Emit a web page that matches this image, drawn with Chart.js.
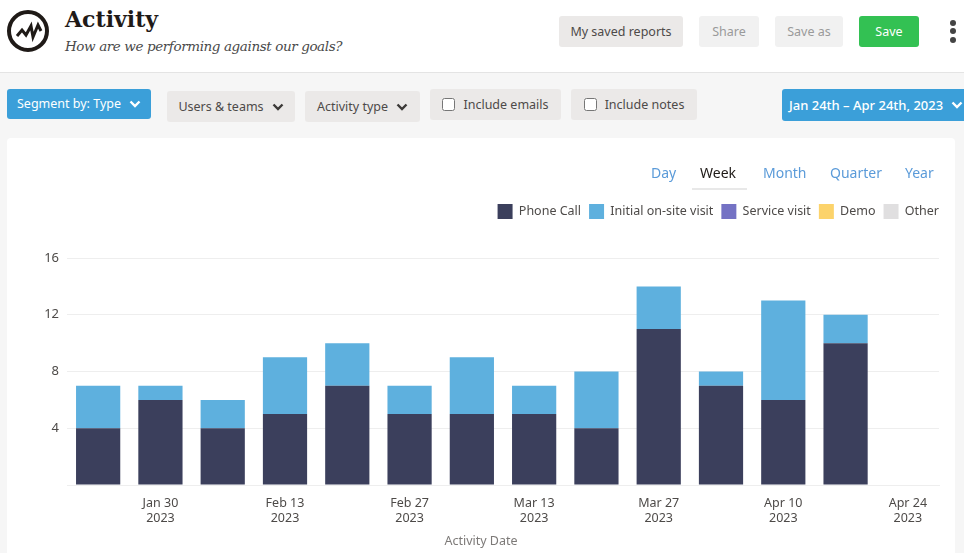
<!DOCTYPE html>
<html>
<head>
<meta charset="utf-8">
<title>Activity</title>
<script src="https://cdn.jsdelivr.net/npm/chart.js@4"></script>
<style>
  html, body { margin: 0; padding: 0; width: 964px; height: 553px; overflow: hidden; background: #f6f6f6; font-family: "Noto Sans", sans-serif; font-size: 12.5px; color: #4d4a48; }
  .abs { position: absolute; box-sizing: border-box; white-space: nowrap; }
  #header { left: 0; top: 0; width: 964px; height: 73px; background: #fff; border-bottom: 1px solid #e4e4e4; }
  #title { left: 65px; top: 6px; font: bold 22px "DejaVu Serif", serif; color: #1f1a17; }
  #subtitle { left: 65px; top: 38px; font: italic 13.5px "DejaVu Serif", serif; color: #4a4a4a; letter-spacing: -0.4px; }
  .btn { border-radius: 3px; background: #ebe9e8; display: flex; align-items: center; justify-content: center; padding-bottom: 1px; }
  .btn.off { background: #f1f1f1; color: #9a9a9a; }
  .btn.blue { background: #3b9fd9; color: #fff; }
  .btn.green { background: #33c153; color: #fff; }
  .btn svg { margin-left: 8px; margin-top: 1px; }
  .btn input { margin: 1px 8px 0 0; width: 13px; height: 13px; }
  .dot { width: 6px; height: 6px; border-radius: 50%; background: #444; left: 950px; }
  #card { left: 7px; top: 138px; width: 948px; height: 415px; background: #fff; border-radius: 4px 4px 0 0; }
  #card canvas { position: absolute; left: 0; top: 0; }
  .tab { top: 163px; font-size: 14px; color: #5b9bd9; }
  #tabline { left: 692px; top: 188px; width: 55px; height: 2px; background: #e8e8e8; }
</style>
</head>
<body>
<div class="abs" id="header"></div>
<svg class="abs" style="left:6px;top:9px" width="44" height="44" viewBox="0 0 44 44">
  <circle cx="22" cy="22" r="19" fill="none" stroke="#1f1a17" stroke-width="4"/>
  <polyline points="11,27 16,21 20,26 25,17 27,28 32,16 35,22" fill="none" stroke="#1f1a17" stroke-width="3"/>
</svg>
<div class="abs" id="title">Activity</div>
<div class="abs" id="subtitle">How are we performing against our goals?</div>

<div class="abs btn" style="left:559px;top:16px;width:124px;height:31px">My saved reports</div>
<div class="abs btn off" style="left:699px;top:16px;width:60px;height:31px">Share</div>
<div class="abs btn off" style="left:775px;top:16px;width:68px;height:31px">Save as</div>
<div class="abs btn green" style="left:859px;top:16px;width:60px;height:31px">Save</div>
<div class="abs dot" style="top:20px"></div>
<div class="abs dot" style="top:28px"></div>
<div class="abs dot" style="top:37px"></div>

<div class="abs btn blue" style="left:7px;top:89px;width:144px;height:30px">Segment by: Type<svg width="12" height="8" viewBox="0 0 12 8"><polyline points="1.5,1.5 6,6 10.5,1.5" fill="none" stroke="#fff" stroke-width="2.4"/></svg></div>
<div class="abs btn" style="left:167px;top:91px;width:128px;height:31px">Users &amp; teams<svg width="12" height="8" viewBox="0 0 12 8"><polyline points="1.5,1.5 6,6 10.5,1.5" fill="none" stroke="#3c3a38" stroke-width="2.4"/></svg></div>
<div class="abs btn" style="left:305px;top:91px;width:115px;height:31px">Activity type<svg width="12" height="8" viewBox="0 0 12 8"><polyline points="1.5,1.5 6,6 10.5,1.5" fill="none" stroke="#3c3a38" stroke-width="2.4"/></svg></div>
<div class="abs btn" style="left:430px;top:89px;width:131px;height:31px"><input type="checkbox">Include emails</div>
<div class="abs btn" style="left:571px;top:89px;width:126px;height:31px"><input type="checkbox">Include notes</div>
<div class="abs btn blue" style="left:782px;top:89px;width:190px;height:32px;justify-content:flex-start;padding-left:7px;font-size:13px;font-weight:500">Jan 24th – Apr 24th, 2023<svg width="12" height="8" viewBox="0 0 12 8"><polyline points="1.5,1.5 6,6 10.5,1.5" fill="none" stroke="#fff" stroke-width="2.4"/></svg></div>

<div class="abs" id="card"><canvas id="chart-activity" width="948" height="415"></canvas></div>
<div class="abs tab" style="left:651px">Day</div>
<div class="abs tab" style="left:700px;color:#1f1a17">Week</div>
<div class="abs tab" style="left:763px">Month</div>
<div class="abs tab" style="left:830px">Quarter</div>
<div class="abs tab" style="left:905px">Year</div>
<div class="abs" id="tabline"></div>

<script>
// Weekly buckets, labels only shown every second week
const weeks = ["Jan 23", "Jan 30", "Feb 6", "Feb 13", "Feb 20", "Feb 27", "Mar 6", "Mar 13", "Mar 20", "Mar 27", "Apr 3", "Apr 10", "Apr 17", "Apr 24"];
const year = "2023";

const phoneCall = [4, 6, 4, 5, 7, 5, 5, 5, 4, 11, 7, 6, 10, 0];
const initialVisit = [3, 1, 2, 4, 3, 2, 4, 2, 4, 3, 1, 7, 2, 0];
const serviceVisit = [0, 0, 0, 0, 0, 0, 0, 0, 0, 0, 0, 0, 0, 0];
const demo = [0, 0, 0, 0, 0, 0, 0, 0, 0, 0, 0, 0, 0, 0];
const other = [0, 0, 0, 0, 0, 0, 0, 0, 0, 0, 0, 0, 0, 0];

const font = "'Noto Sans', sans-serif";
const legendPadding = 8;

function series(label, data, color) {
  return { label, data, backgroundColor: color, borderWidth: 0, barPercentage: 0.71, categoryPercentage: 1 };
}

// Legend sits flush with the plot's right edge and leaves a gap above the plot;
// the axis caption is centred on the card rather than on the plot
const legendSpacing = {
  id: "legendSpacing",
  beforeInit(chart) {
    const fit = chart.legend.fit;
    chart.legend.fit = function () {
      fit.call(this);
      this.height += 29;
    };
  },
  afterLayout(chart) {
    chart.legend.left += legendPadding;
    chart.legend.right += legendPadding;
    chart.titleBlock.left += 8;
    chart.titleBlock.right += 8;
  }
};

new Chart(document.getElementById("chart-activity"), {
  type: "bar",
  data: {
    labels: weeks,
    datasets: [
      series("Phone Call", phoneCall, "#3b3f5c"),
      series("Initial on-site visit", initialVisit, "#5eb0de"),
      series("Service visit", serviceVisit, "#7472c4"),
      series("Demo", demo, "#fcd36b"),
      series("Other", other, "#e0dfe0"),
    ]
  },
  plugins: [legendSpacing],
  options: {
    responsive: false,
    animation: false,
    layout: { padding: { left: 0, right: 16, top: 58, bottom: 4 } },
    scales: {
      x: {
        stacked: true,
        grid: { display: false },
        border: { color: "#eeeeee" },
        ticks: {
          autoSkip: false,
          maxRotation: 0,
          padding: 3,
          color: "#4d4a48",
          font: { family: font, size: 12.5, lineHeight: 1.2 },
          callback: function (value, i) {
            return i % 2 === 1 ? [weeks[i], year] : "";
          }
        }
      },
      y: {
        stacked: true,
        min: 0,
        max: 16,
        afterFit: (scale) => { scale.width = 60; },
        grid: { color: "#eeeeee", drawTicks: false },
        border: { display: false },
        ticks: {
          stepSize: 4,
          padding: 8,
          color: "#4d4a48",
          font: { family: font, size: 13 },
          callback: (value) => (value === 0 ? "" : value)
        }
      }
    },
    plugins: {
      legend: {
        display: true,
        position: "top",
        align: "end",
        labels: {
          boxWidth: 15,
          boxHeight: 15,
          padding: legendPadding,
          color: "#4d4a48",
          font: { family: font, size: 12.5 }
        }
      },
      title: {
        display: true,
        position: "bottom",
        text: "Activity Date",
        color: "#7d7a78",
        font: { family: font, size: 12.5, weight: "normal" },
        padding: { top: 5, bottom: 0 }
      },
      tooltip: { enabled: false }
    }
  }
});
</script>
</body>
</html>
